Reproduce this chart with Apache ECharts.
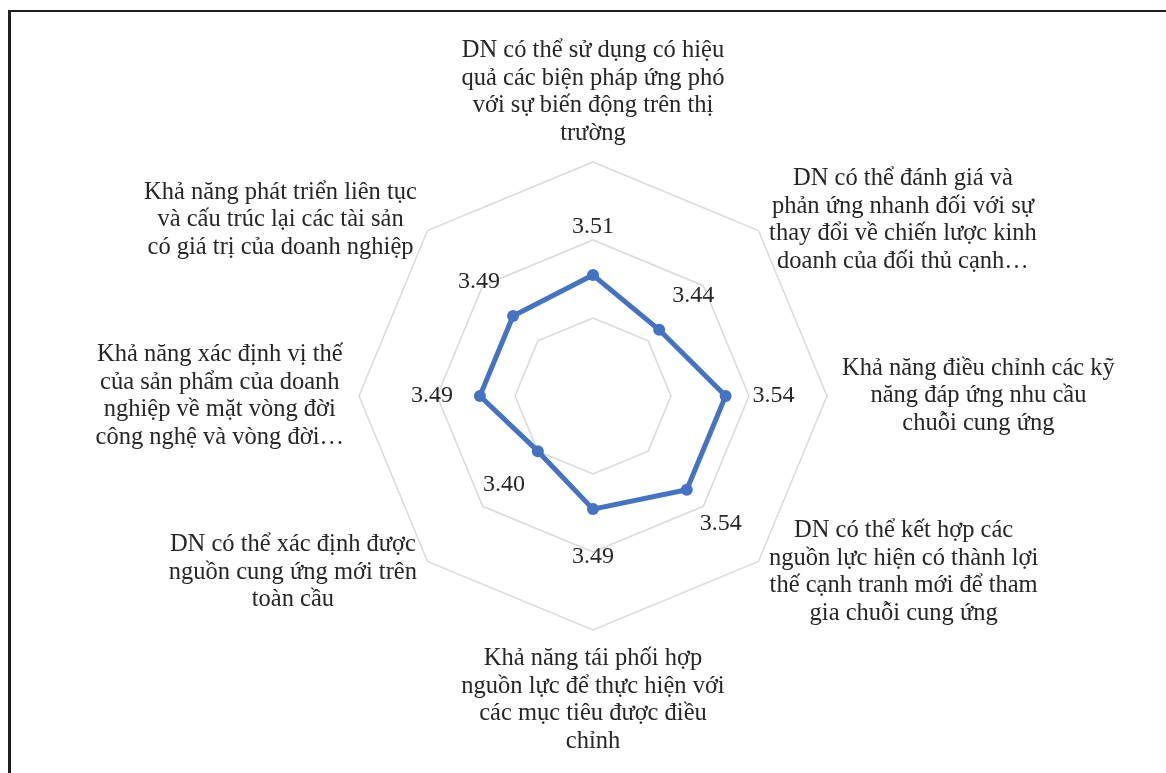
<!DOCTYPE html>
<html>
<head>
<meta charset="utf-8">
<script src="https://cdn.jsdelivr.net/npm/echarts@6/dist/echarts.min.js"></script>
<style>
  html, body { margin: 0; padding: 0; background: #fff; }
  #chart { width: 1166px; height: 773px; }
</style>
</head>
<body>
<div id="chart"></div>
<script>
// Categories in clockwise order starting at the top
const categories = [
  "DN có thể sử dụng có hiệu\nquả các biện pháp ứng phó\nvới sự biến động trên thị\ntrường",
  "DN có thể đánh giá và\nphản ứng nhanh đối với sự\nthay đổi về chiến lược kinh\ndoanh của đối thủ cạnh…",
  "Khả năng điều chỉnh các kỹ\nnăng đáp ứng nhu cầu\nchuỗi cung ứng",
  "DN có thể kết hợp các\nnguồn lực hiện có thành lợi\nthế cạnh tranh mới để tham\ngia chuỗi cung ứng",
  "Khả năng tái phối hợp\nnguồn lực để thực hiện với\ncác mục tiêu được điều\nchỉnh",
  "DN có thể xác định được\nnguồn cung ứng mới trên\ntoàn cầu",
  "Khả năng xác định vị thế\ncủa sản phẩm của doanh\nnghiệp về mặt vòng đời\ncông nghệ và vòng đời…",
  "Khả năng phát triển liên tục\nvà cấu trúc lại các tài sản\ncó giá trị của doanh nghiệp"
];
const values = [3.51, 3.44, 3.54, 3.54, 3.49, 3.40, 3.49, 3.49];
const axisMin = 3.2;
const axisMax = 3.8;

const CX = 593, CY = 396, R = 234;
const FONT = "'Liberation Serif', 'Times New Roman', serif";
const TEXT_COLOR = '#262626';

// ECharts places indicators counter-clockwise; reorder so they read clockwise.
const order = [0].concat(categories.map((_, i) => i).slice(1).reverse());
const indicators = order.map(i => ({ name: categories[i], min: axisMin, max: axisMax }));
const orderedValues = order.map(i => values[i]);

const chart = echarts.init(document.getElementById('chart'), null, { renderer: 'canvas' });
chart.setOption({
  animation: false,
  backgroundColor: '#fff',
  graphic: [
    { type: 'line', shape: { x1: 9.5, y1: 10, x2: 9.5, y2: 773 }, style: { stroke: '#231f20', lineWidth: 3 } },
    { type: 'line', shape: { x1: 8, y1: 11, x2: 1166, y2: 11 }, style: { stroke: '#231f20', lineWidth: 2 } }
  ],
  radar: {
    center: [CX, CY],
    radius: R,
    startAngle: 90,
    shape: 'polygon',
    splitNumber: 3,
    nameGap: 15,
    indicator: indicators,
    axisName: {
      color: TEXT_COLOR,
      fontFamily: FONT,
      fontSize: 24.5,
      lineHeight: 27.5,
      formatter: function (name) {
        return name.split('\n').map(l => '{c|' + l + '}').join('\n');
      },
      rich: {
        c: { align: 'center', color: TEXT_COLOR, fontFamily: FONT, fontSize: 24.5, lineHeight: 27.5 }
      }
    },
    axisLine: { show: false },
    axisTick: { show: false },
    axisLabel: { show: false },
    splitArea: { show: false },
    splitLine: { lineStyle: { color: '#d9d9d9', width: 1.5 } }
  },
  series: [{
    type: 'radar',
    symbol: 'circle',
    symbolSize: 12,
    lineStyle: { color: '#4472c4', width: 5 },
    itemStyle: { color: '#4472c4' },
    label: {
      show: true,
      color: TEXT_COLOR,
      fontFamily: FONT,
      fontSize: 24,
      formatter: p => Number(p.value).toFixed(2)
    },
    labelLayout: function (params) {
      const r = params.rect;
      const px = r.x + r.width / 2, py = r.y + r.height / 2;
      const dx = px - CX, dy = py - CY;
      const d = Math.sqrt(dx * dx + dy * dy) || 1;
      return { x: px + dx / d * 48, y: py + dy / d * 48, align: 'center', verticalAlign: 'middle' };
    },
    data: [{ value: orderedValues, name: 'Năng lực' }]
  }]
});
</script>
</body>
</html>
